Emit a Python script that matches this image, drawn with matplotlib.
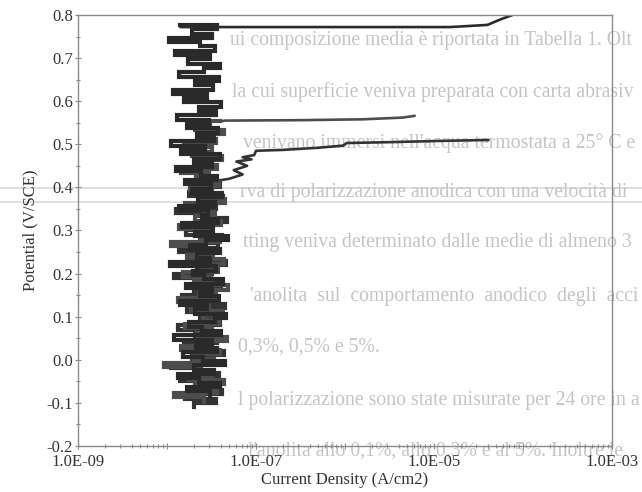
import matplotlib
matplotlib.use("Agg")
import matplotlib.pyplot as plt
from matplotlib.lines import Line2D
from matplotlib.ticker import LogLocator, NullFormatter
import numpy as np

plt.rcParams['font.family'] = ['Liberation Serif', 'DejaVu Serif']
plt.rcParams['axes.unicode_minus'] = False

# scan potential grid (mV vs SCE)
potential_mv = [-110, -100, -90, -80, -70, -60, -50, -40, -30, -20,
                -10, 0, 10, 20, 30, 40, 50, 60, 70, 80,
                90, 100, 110, 120, 130, 140, 150, 160, 170, 180,
                190, 200, 210, 220, 230, 240, 250, 260, 270, 280,
                290, 300, 310, 320, 330, 340, 350, 360, 370, 380,
                390, 400, 410, 420, 430, 440, 450, 460, 470, 480,
                490, 500, 510, 520, 530, 540, 550, 560, 570, 580,
                590, 600, 610, 620, 630, 640, 650, 660, 670, 680,
                690, 700, 710, 720, 730, 740, 750, 760, 770]
# each specimen's scan sits a few mV off the common grid
scan_offset_mv = [0, 3, 7]

# log10 of current density in the passive range, one list per specimen
passive_a = [-7.70, -7.45, -7.80, -7.38, -7.62, -7.50, -7.85, -7.42, -7.66, -7.95,
             -7.48, -7.72, -7.36, -7.58, -7.81, -7.44, -7.69, -7.52, -7.88, -7.40,
             -7.63, -7.47, -7.77, -7.35, -7.60, -7.83, -7.46, -7.70, -7.39, -7.57,
             -7.92, -7.50, -7.66, -7.34, -7.74, -7.55, -7.86, -7.43, -7.62, -7.38,
             -7.79, -7.49, -7.68, -7.33, -7.58, -7.90, -7.45, -7.64, -7.37, -7.75,
             -7.52, -7.41, -7.60]
passive_b = [-7.58, -7.92, -7.44, -7.68, -7.36, -7.75, -7.50, -7.62, -8.03, -7.47,
             -7.71, -7.40, -7.84, -7.55, -7.33, -7.66, -7.49, -7.80, -7.42, -7.60,
             -7.37, -7.73, -7.53, -7.88, -7.45, -7.64, -7.31, -7.70, -7.51, -7.82,
             -7.43, -7.59, -7.36, -7.77, -7.48, -7.66, -7.95, -7.41, -7.63, -7.54,
             -7.86, -7.39, -7.69, -7.46, -7.57, -7.80, -7.35, -7.61, -7.50, -7.74,
             -7.42, -7.67, -7.53, -7.84, -7.44, -7.62, -7.38, -7.72, -7.49, -7.81,
             -7.45, -7.60, -7.36, -7.68, -7.52, -7.40]
passive_c = [-7.52, -7.78, -7.40, -7.64, -7.88, -7.47, -7.70, -7.35, -7.59, -7.82,
             -7.44, -7.67, -7.50, -7.92, -7.39, -7.61, -7.75, -7.46, -7.34, -7.68,
             -7.55, -7.85, -7.42, -7.63, -7.49, -7.79, -7.37, -7.58, -7.71, -7.45,
             -7.97, -7.52, -7.66, -7.40, -7.74, -7.56, -7.32, -7.69, -7.48, -7.83,
             -7.43, -7.61, -7.54, -7.87, -7.46, -7.65, -7.38, -7.72, -7.51, -7.80,
             -7.44, -7.62, -7.90, -7.49, -7.70, -7.41, -7.84, -7.57, -7.95, -7.47,
             -7.66, -7.43, -7.78, -7.53, -7.89, -7.45, -7.64, -7.39, -7.81, -7.55,
             -7.93, -7.48, -7.68, -7.42, -7.86, -7.58, -7.40, -7.76, -7.52, -7.91,
             -7.46, -7.63, -7.98, -7.50, -7.72, -7.44, -7.85]

# breakdown branches (potential V, log10 current)
tail_a_v = [0.42, 0.43, 0.44, 0.45, 0.46, 0.465, 0.47, 0.475, 0.485, 0.487, 0.492, 0.497, 0.503, 0.505, 0.508, 0.51]
tail_a_i = [-7.30, -7.15, -7.25, -7.10, -7.22, -7.05, -7.15, -7.02, -7.00, -6.70, -6.30, -6.02, -5.98, -5.50, -4.90, -4.39]
tail_b_v = [0.555, 0.556, 0.558, 0.562, 0.566]
tail_b_i = [-7.35, -6.50, -5.80, -5.35, -5.22]
tail_c_v = [0.772, 0.772, 0.777, 0.79, 0.80]
tail_c_i = [-7.85, -4.82, -4.40, -4.25, -4.12]

# print-through text of the facing page
page_lines = [
    (230, 40, "ui composizione media è riportata in Tabella 1. Olt"),
    (232, 92, "la cui superficie veniva preparata con carta abrasiv"),
    (243, 143, "venivano immersi nell'acqua termostata a 25° C e"),
    (240, 193, "rva di polarizzazione anodica con una velocità di"),
    (243, 243, "tting veniva determinato dalle medie di almeno 3"),
    (250, 296, "'anolita  sul  comportamento  anodico  degli  acci"),
    (238, 347, "0,3%, 0,5% e 5%."),
    (238, 400, "l polarizzazione sono state misurate per 24 ore in a"),
    (248, 451, "l'anolita allo 0,1%, allo 0,3% e al 5%. Inoltre le"),
]

W, H = 642, 492
fig = plt.figure(figsize=(W / 100, H / 100), dpi=100)

for px, py, txt in page_lines:
    fig.text(px / W, 1 - py / H, txt, fontsize=14.2, color='#c4c4c4',
             va='center', ha='left', zorder=0)
for py in (188, 202):
    fig.add_artist(Line2D([0, 1], [1 - py / H, 1 - py / H], color='#dcdcdc',
                          lw=1.3, zorder=0))

ax = fig.add_axes([78 / W, 1 - 446 / H, (612 - 78) / W, (446 - 15) / H])
ax.set_zorder(2)
ax.patch.set_alpha(0)

v = np.array(potential_mv) / 1000.0
curves = [
    (v[0:53] + scan_offset_mv[0] / 1000.0, passive_a, tail_a_v, tail_a_i, '#333333'),
    (v[1:67] + scan_offset_mv[1] / 1000.0, passive_b, tail_b_v, tail_b_i, '#4d4d4d'),
    (v[2:89] + scan_offset_mv[2] / 1000.0, passive_c, tail_c_v, tail_c_i, '#2a2a2a'),
]
for vb, ib, vt, it, col in curves:
    ib = np.array(ib)
    ax.plot(10 ** ib, vb, color=col, lw=3.0, drawstyle='steps-pre',
            solid_joinstyle='miter')
    ax.plot(10 ** np.r_[ib[-1], it], np.r_[vb[-1], vt], color=col, lw=1.9)

ax.set_xscale('log')
ax.set_xlim(1e-9, 1e-3)
ax.set_ylim(-0.2, 0.8)

decades = [1e-9, 1e-8, 1e-7, 1e-6, 1e-5, 1e-4, 1e-3]
ax.set_xticks(decades)
ax.set_xticklabels(['1.0E-09', '', '1.0E-07', '', '1.0E-05', '', '1.0E-03'])
ax.xaxis.set_minor_locator(LogLocator(base=10, subs=np.arange(2, 10)))
ax.xaxis.set_minor_formatter(NullFormatter())

yt = [-0.2, -0.1, 0.0, 0.1, 0.2, 0.3, 0.4, 0.5, 0.6, 0.7, 0.8]
ax.set_yticks(yt)
ax.set_yticklabels(['-0.2', '-0.1', '0.0', '0.1', '0.2', '0.3', '0.4', '0.5', '0.6', '0.7', '0.8'])
ax.set_yticks([-0.15, -0.05, 0.05, 0.15, 0.25, 0.35, 0.45, 0.55, 0.65, 0.75], minor=True)

for s in ax.spines.values():
    s.set_color('#8a8a8a')
    s.set_linewidth(1.0)
ax.tick_params(which='both', direction='inout', colors='#8a8a8a', labelcolor='#333333',
               labelsize=12, width=0.8)
ax.tick_params(which='major', length=5)
ax.tick_params(which='minor', length=3)
ax.tick_params(axis='x', pad=3)
ax.tick_params(axis='y', pad=1)

ax.set_xlabel('Current Density (A/cm2)', fontsize=12, color='#333333', labelpad=2)
ax.set_ylabel('Potential (V/SCE)', fontsize=12, color='#333333', labelpad=6)

fig.savefig('out.png', dpi=100)
